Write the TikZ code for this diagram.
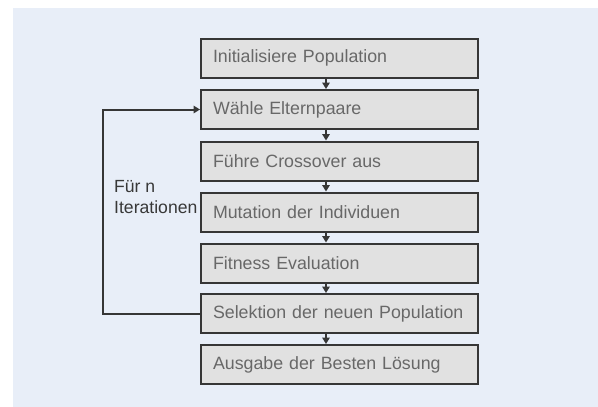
\documentclass[tikz,border=0pt]{standalone}
\usepackage{fontspec}
\setmainfont{Liberation Sans}
\usetikzlibrary{arrows.meta}
\definecolor{bgc}{HTML}{E8EEF8}
\definecolor{boxfill}{HTML}{E1E1E1}
\definecolor{boxline}{HTML}{363636}
\definecolor{boxtext}{HTML}{686868}
\definecolor{labtext}{HTML}{383838}
\tikzset{
  stepbox/.style={draw=boxline, line width=2pt, fill=boxfill, anchor=north west,
    text width=253pt, align=left, inner xsep=12pt, inner ysep=0pt,
    minimum height=39pt, text=boxtext, font=\fontsize{17.8}{21}\selectfont},
  arr/.style={draw=boxline, line width=2pt, -{Triangle[length=6.5pt,width=7.5pt]}},
  lab/.style={anchor=base west, inner sep=0pt, text=labtext, font=\fontsize{17.6}{21}\selectfont}
}
\begin{document}
\begin{tikzpicture}[x=1pt,y=-1pt]
\useasboundingbox (0,0) rectangle (598,407);
\fill[white] (0,0) rectangle (598,407);
\fill[bgc] (13,8) rectangle (598,407);
\node[stepbox] (b1) at (200,37.5) {Initialisiere Population};
\node[stepbox] (b2) at (200,89) {Wähle Elternpaare};
\node[stepbox] (b3) at (200,140.5) {Führe Crossover aus};
\node[stepbox] (b4) at (200,191.5) {Mutation der Individuen};
\node[stepbox] (b5) at (200,242.5) {Fitness Evaluation};
\node[stepbox] (b6) at (200,293) {Selektion der neuen Population};
\node[stepbox] (b7) at (200,344) {Ausgabe der Besten Lösung};
\foreach \a/\b in {b1/b2,b2/b3,b3/b4,b4/b5,b5/b6,b6/b7}
  \draw[arr] ([xshift=-13.5pt]\a.south) -- ([xshift=-13.5pt]\b.north);
\draw[arr] (b6.west) -- ++(-97,0) |- (b2.west);
\node[lab] (l1) at (114,192) {Für n};
\node[lab] (l2) at (114,213) {Iterationen};
\end{tikzpicture}
\end{document}
